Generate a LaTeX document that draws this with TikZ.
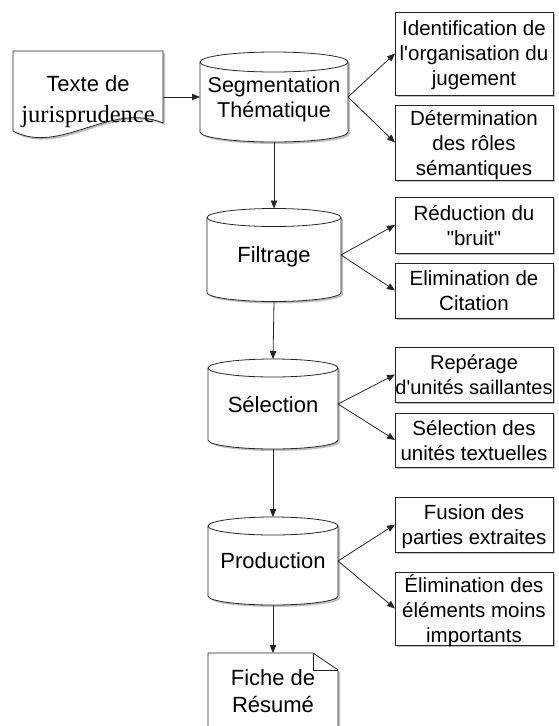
\documentclass[tikz,border=0pt]{standalone}
\usepackage{fontspec}
\setmainfont{Liberation Sans}[Ligatures=TeXOff]
\newfontfamily\timesfont{Liberation Serif}[Ligatures=TeXOff]
\usetikzlibrary{shadows,arrows.meta,backgrounds}

\tikzset{
  x=1pt, y=1pt,
  stroke/.style={draw=black!85, line width=0.8pt},
  arr/.style={stroke, -{Triangle[length=8pt,width=6.5pt]}},
  shad/.style={drop shadow={shadow xshift=2pt, shadow yshift=-2pt, fill=black!45, opacity=0.55}},
  taskbox/.style={stroke, fill=white, shad, minimum width=158pt, inner sep=0pt, outer sep=0pt,
    align=center, text depth=0pt, font=\fontsize{20.5}{25}\selectfont},
  cylnode/.style={inner sep=0pt, outer sep=0pt, align=center, text depth=0pt,
    font=\fontsize{22}{25}\selectfont},
}

% name, x radius, y radius
\newcommand\drawcylinder[3]{%
  \path[stroke, fill=white, shad]
    ([yshift=-#3pt]#1.north west) -- ([yshift=#3pt]#1.south west)
    arc[start angle=180, end angle=360, x radius=#2pt, y radius=#3pt]
    -- ([yshift=-#3pt]#1.north east)
    arc[start angle=0, end angle=180, x radius=#2pt, y radius=#3pt] -- cycle;
  \draw[stroke] ([yshift=-#3pt]#1.north west)
    arc[start angle=180, end angle=360, x radius=#2pt, y radius=#3pt];
}

\begin{document}
\begin{tikzpicture}
\useasboundingbox (0,0) rectangle (558,-726);

% source document
\node[cylnode, minimum width=150pt, minimum height=96pt, font=\fontsize{22}{29}\selectfont] (texte) at (88,-99)
  {Texte de\\[2pt]{\timesfont\fontsize{24.5}{29}\selectfont jurisprudence}};

% cylinders
\node[cylnode, minimum width=148pt, minimum height=90pt, font=\fontsize{21.5}{25}\selectfont] (c1) at (274,-97) {Segmentation\\Thématique};
\node[cylnode, minimum width=134pt, minimum height=93pt] (c2) at (274,-255) {Filtrage};
\node[cylnode, minimum width=130pt, minimum height=90pt] (c3) at (273,-404) {Sélection};
\node[cylnode, minimum width=130pt, minimum height=88pt] (c4) at (273,-561) {Production};

% result document
\node[cylnode, minimum width=130pt, minimum height=76pt, font=\fontsize{22}{27}\selectfont] (fiche) at (273,-691) {Fiche de\\Résumé};

\begin{scope}[on background layer]
  \path[stroke, fill=white, shad]
    (texte.north west) -- (texte.north east) -- ([yshift=-72pt]texte.north east)
    .. controls +(-53,22) and +(47,-25) .. ([yshift=-80pt]texte.north west) -- cycle;
  \drawcylinder{c1}{74}{10}
  \drawcylinder{c2}{67}{9}
  \drawcylinder{c3}{65}{9}
  \drawcylinder{c4}{65}{9}
  \path[stroke, fill=white, shad]
    (fiche.south west) -- (fiche.north west) -- ([xshift=-25pt]fiche.north east)
    -- ([yshift=-17pt]fiche.north east) -- (fiche.south east) -- cycle;
  \draw[stroke] ([xshift=-25pt]fiche.north east) -- ([xshift=-25pt,yshift=-17pt]fiche.north east)
    -- ([yshift=-17pt]fiche.north east);
\end{scope}

% task boxes
\node[taskbox, minimum height=83pt] (b1) at (474,-53.5) {Identification de\\l'organisation du\\jugement};
\node[taskbox, minimum height=75pt] (b2) at (474,-142.5) {Détermination\\des rôles\\sémantiques};
\node[taskbox, minimum height=56pt] (b3) at (474,-225) {Réduction du\\"bruit"};
\node[taskbox, minimum height=55pt] (b4) at (474,-290.5) {Elimination de\\Citation};
\node[taskbox, minimum height=55pt, font=\fontsize{20}{25}\selectfont] (b5) at (474,-374.5) {Repérage\\d'unités saillantes};
\node[taskbox, minimum height=54pt] (b6) at (474,-440) {Sélection des\\unités textuelles};
\node[taskbox, minimum height=55pt] (b7) at (474,-524.5) {Fusion des\\parties extraites};
\node[taskbox, minimum height=73pt] (b8) at (474,-608.5) {Élimination des\\éléments moins\\importants};

% connectors
\draw[arr] (texte.east |- c1.west) -- (c1.west);
\draw[arr] (c1.south) -- (c2.north);
\draw[arr] (c2.south) -- (c3.north);
\draw[arr] (c3.south) -- (c4.north);
\draw[arr] (c4.south) -- (fiche.north);

\draw[arr] (c1.east) -- (b1.west);
\draw[arr] (c1.east) -- (b2.west);
\draw[arr] (c2.east) -- (b3.west);
\draw[arr] (c2.east) -- (b4.west);
\draw[arr] (c3.east) -- (b5.west);
\draw[arr] (c3.east) -- (b6.west);
\draw[arr] (c4.east) -- (b7.west);
\draw[arr] (c4.east) -- (b8.west);
\end{tikzpicture}
\end{document}
